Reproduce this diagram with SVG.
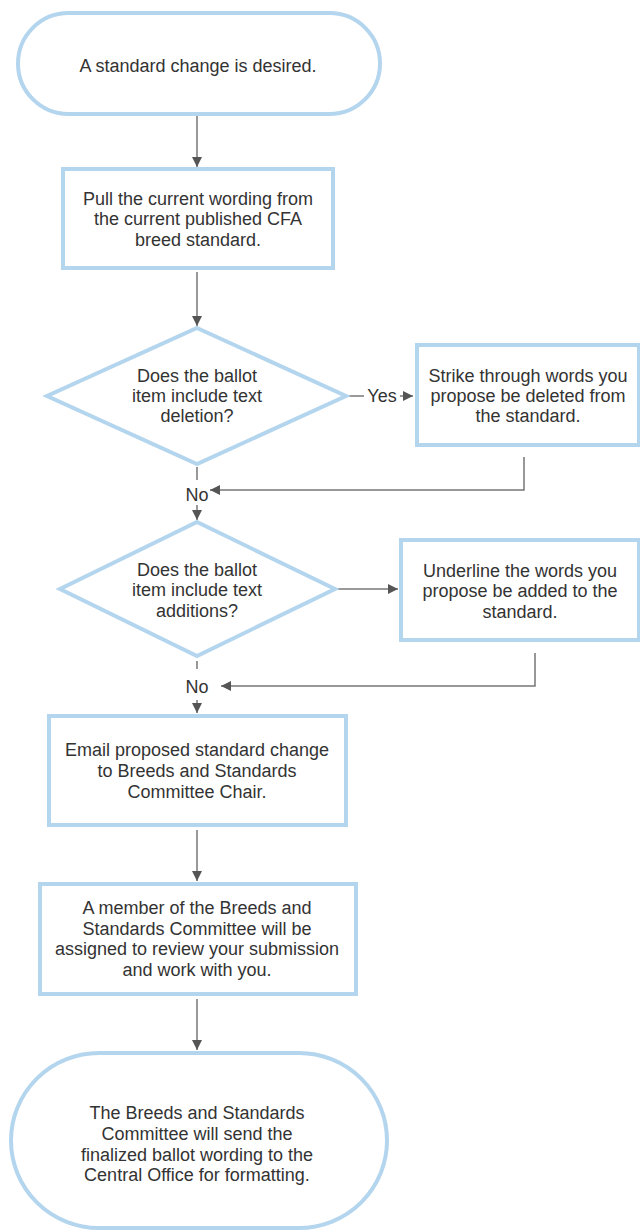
<svg xmlns="http://www.w3.org/2000/svg" width="640" height="1231" viewBox="0 0 640 1231">
<defs>
<style>
.n{fill:#fff;stroke:#b4d5ee;stroke-width:4}
.t{font-family:"Liberation Sans",Arial,sans-serif;font-size:18px;fill:#333;text-anchor:middle}
.c{fill:none;stroke:#777;stroke-width:1.5}
</style>
<marker id="ah" viewBox="0 0 10 10" refX="10" refY="5" markerWidth="10" markerHeight="10" markerUnits="userSpaceOnUse" orient="auto">
<path d="M0,0 L10,5 L0,10 Z" fill="#555"/>
</marker>
</defs>
<rect width="640" height="1231" fill="#fff"/>
<g id="connectors">
<line class="c" x1="197" y1="115" x2="197" y2="167" marker-end="url(#ah)"/>
<line class="c" x1="197" y1="272" x2="197" y2="326" marker-end="url(#ah)"/>
<line class="c" x1="347" y1="396" x2="364" y2="396"/>
<line class="c" x1="400" y1="396" x2="413" y2="396" marker-end="url(#ah)"/>
<polyline class="c" points="524,457 524,490 210,490" marker-end="url(#ah)"/>
<line class="c" x1="197" y1="467" x2="197" y2="480"/>
<line class="c" x1="197" y1="505" x2="197" y2="520" marker-end="url(#ah)"/>
<line class="c" x1="335" y1="589" x2="398" y2="589" marker-end="url(#ah)"/>
<polyline class="c" points="535,653 535,686 221,686" marker-end="url(#ah)"/>
<line class="c" x1="197" y1="661" x2="197" y2="669"/>
<line class="c" x1="197" y1="700" x2="197" y2="713" marker-end="url(#ah)"/>
<line class="c" x1="197" y1="830" x2="197" y2="881" marker-end="url(#ah)"/>
<line class="c" x1="197" y1="999" x2="197" y2="1050" marker-end="url(#ah)"/>
<text class="t" x="382" y="402">Yes</text>
<text class="t" x="197" y="501">No</text>
<text class="t" x="197" y="693">No</text>
</g>
<g id="start">
<rect class="n" x="18" y="13" width="362" height="101" rx="50.5"/>
<text class="t" x="198" y="72">A standard change is desired.</text>
</g>
<g id="pull">
<rect class="n" x="63" y="169" width="270" height="99"/>
<text class="t" x="198" y="205">Pull the current wording from</text>
<text class="t" x="198" y="225">the current published CFA</text>
<text class="t" x="198" y="246">breed standard.</text>
</g>
<g id="deletion">
<polygon class="n" points="197,328 346,396 197,464 47,396"/>
<text class="t" x="197" y="382">Does the ballot</text>
<text class="t" x="197" y="402">item include text</text>
<text class="t" x="197" y="422">deletion?</text>
</g>
<g id="strike">
<rect class="n" x="417" y="345" width="222" height="100"/>
<text class="t" x="528" y="382">Strike through words you</text>
<text class="t" x="528" y="402">propose be deleted from</text>
<text class="t" x="528" y="422">the standard.</text>
</g>
<g id="addition">
<polygon class="n" points="197,522 335,589 197,656 60,589"/>
<text class="t" x="197" y="576">Does the ballot</text>
<text class="t" x="197" y="596">item include text</text>
<text class="t" x="197" y="617">additions?</text>
</g>
<g id="underline">
<rect class="n" x="401" y="540" width="238" height="100"/>
<text class="t" x="520" y="577">Underline the words you</text>
<text class="t" x="520" y="597">propose be added to the</text>
<text class="t" x="520" y="618">standard.</text>
</g>
<g id="email">
<rect class="n" x="49" y="716" width="297" height="109"/>
<text class="t" x="197" y="756">Email proposed standard change</text>
<text class="t" x="197" y="777">to Breeds and Standards</text>
<text class="t" x="197" y="798">Committee Chair.</text>
</g>
<g id="member">
<rect class="n" x="40" y="884" width="316" height="110"/>
<text class="t" x="197" y="914">A member of the Breeds and</text>
<text class="t" x="197" y="935">Standards Committee will be</text>
<text class="t" x="197" y="955">assigned to review your submission</text>
<text class="t" x="197" y="976">and work with you.</text>
</g>
<g id="end">
<rect class="n" x="11" y="1053" width="376" height="175" rx="88"/>
<text class="t" x="197" y="1119">The Breeds and Standards</text>
<text class="t" x="197" y="1140">Committee will send the</text>
<text class="t" x="197" y="1161">finalized ballot wording to the</text>
<text class="t" x="197" y="1181">Central Office for formatting.</text>
</g>
</svg>
